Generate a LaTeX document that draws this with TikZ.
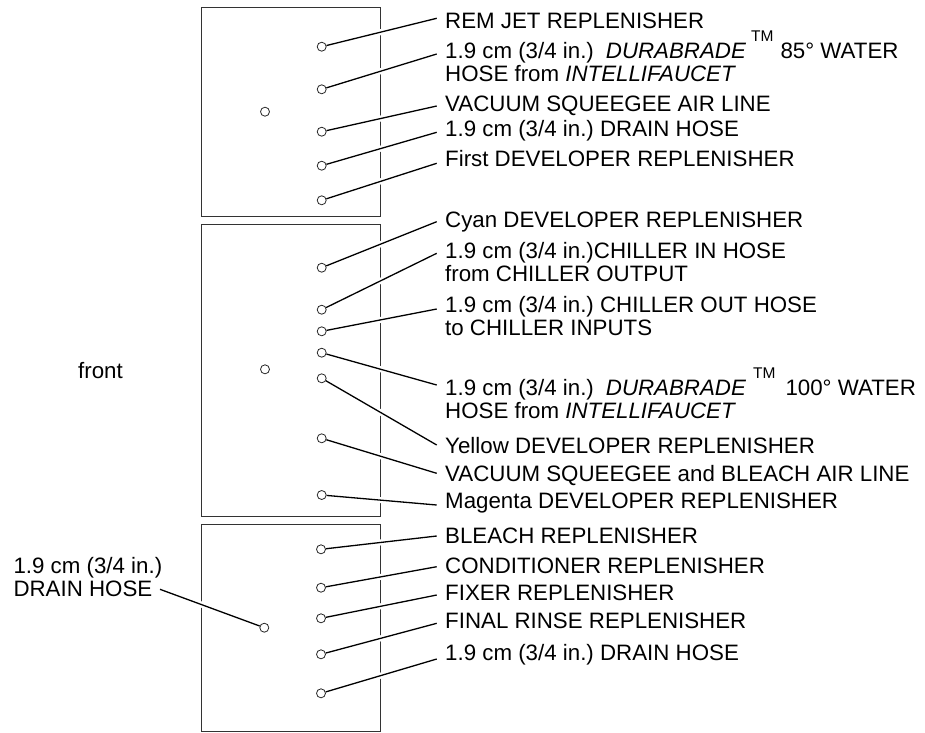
\documentclass[tikz,border=0pt]{standalone}
\usepackage{fontspec}
\setmainfont{Liberation Sans}
\usetikzlibrary{positioning,backgrounds}
\frenchspacing
\newcommand{\tmark}{\raisebox{17pt}{\fontsize{15.5}{15.5}\selectfont TM}}

\begin{document}
\begin{tikzpicture}[x=1pt,y=-1pt,
 every node/.style={font=\fontsize{22.3}{23}\selectfont},
 tank/.style={draw=black!80,line width=0.9pt},
 port/.style={circle,draw=black!85,fill=white,line width=0.8pt,
   inner sep=0pt,minimum size=9pt},
 callout/.style={anchor=base west,inner sep=0pt,align=left},
 leader/.style={draw=black,line width=1.3pt,
   preaction={draw=white,line width=6pt}}]
 \useasboundingbox (0,0) rectangle (925,732);
 % ports, top tank
 \node[port] (tc) at (265,111.7) {};
 \node[port] (t1) at (321.7,46.7) {};
 \node[port] (t2) at (321.7,89.3) {};
 \node[port] (t3) at (321.7,131.7) {};
 \node[port] (t4) at (321.7,165.7) {};
 \node[port] (t5) at (321.7,200.3) {};
 % ports, middle tank
 \node[port] (mc) at (265,369.3) {};
 \node[port] (m1) at (321.7,267.7) {};
 \node[port] (m2) at (321.7,309.7) {};
 \node[port] (m3) at (321.7,331.3) {};
 \node[port] (m4) at (321.7,352.7) {};
 \node[port] (m5) at (321.7,378.3) {};
 \node[port] (m6) at (321.7,438.3) {};
 \node[port] (m7) at (321.7,495) {};
 % ports, bottom tank
 \node[port] (bc) at (264.3,627.7) {};
 \node[port] (b1) at (321,549.3) {};
 \node[port] (b2) at (321,587.7) {};
 \node[port] (b3) at (321,618.3) {};
 \node[port] (b4) at (321,654.3) {};
 \node[port] (b5) at (321,693.3) {};
 % callouts (multi-line ones sit on the baseline of their last line)
 \node[callout] (remjet) at (445,28.5) {REM JET REPLENISHER};
 \node[callout] (dura85) at (445,81.7)
   {1.9 cm (3/4 in.)\hspace{12pt}\textit{DURABRADE}\hspace{5pt}\tmark\hspace{7pt}85° WATER\\
    HOSE from \textit{INTELLIFAUCET}};
 \node[callout] (vacair) at (445,111.7) {VACUUM SQUEEGEE AIR LINE};
 \node[callout] (draintop) at (445,136) {1.9 cm (3/4 in.) DRAIN HOSE};
 \node[callout] (firstdev) at (445,166) {First DEVELOPER REPLENISHER};
 \node[callout] (cyandev) at (445,227.5) {Cyan DEVELOPER REPLENISHER};
 \node[callout] (chillin) at (445,281)
   {1.9 cm (3/4 in.)CHILLER IN HOSE\\from CHILLER OUTPUT};
 \node[callout] (chillout) at (445,335)
   {1.9 cm (3/4 in.) CHILLER OUT HOSE\\to CHILLER INPUTS};
 \node[callout] (dura100) at (445,418)
   {1.9 cm (3/4 in.)\hspace{12pt}\textit{DURABRADE}\hspace{7pt}\tmark\hspace{10pt}100° WATER\\
    HOSE from \textit{INTELLIFAUCET}};
 \node[callout] (yellowdev) at (445,453) {Yellow DEVELOPER REPLENISHER};
 \node[callout] (vacbleach) at (445,481.5) {VACUUM SQUEEGEE and BLEACH AIR LINE};
 \node[callout] (magentadev) at (445,508.5) {Magenta DEVELOPER REPLENISHER};
 \node[callout] (bleach) at (445,543.3) {BLEACH REPLENISHER};
 \node[callout] (cond) at (445,573.3) {CONDITIONER REPLENISHER};
 \node[callout] (fixer) at (445,600) {FIXER REPLENISHER};
 \node[callout] (rinse) at (445,628.3) {FINAL RINSE REPLENISHER};
 \node[callout] (drainbot) at (445,660.5) {1.9 cm (3/4 in.) DRAIN HOSE};
 \node[callout] (drainleft) at (13.3,596.5) {1.9 cm (3/4 in.)\\DRAIN HOSE};
 \node[callout] (front) at (78,378) {front};
 % free ends of the leaders
 \coordinate (remjet-end) at (436.7,18.3);
 \coordinate (dura85-end) at (436.7,54);
 \coordinate (vacair-end) at (436.7,106);
 \coordinate (draintop-end) at (436.7,132.3);
 \coordinate (firstdev-end) at (436.7,163.3);
 \coordinate (cyandev-end) at (436.7,221.7);
 \coordinate (chillin-end) at (436.7,253.3);
 \coordinate (chillout-end) at (436.7,309);
 \coordinate (dura100-end) at (436.7,385);
 \coordinate (yellowdev-end) at (436.7,445);
 \coordinate (vacbleach-end) at (436.7,473.3);
 \coordinate (magentadev-end) at (436.7,505);
 \coordinate (bleach-end) at (436.7,536);
 \coordinate (cond-end) at (436.7,566.7);
 \coordinate (fixer-end) at (436.7,595);
 \coordinate (rinse-end) at (436.7,623.3);
 \coordinate (drainbot-end) at (436.7,659);
 \coordinate (drainleft-end) at (160,589.3);
 \begin{scope}[on background layer]
  % tanks
  \draw[tank] (201.5,7.5) rectangle (380.5,216);
  \draw[tank] (201.5,224.5) rectangle (380.5,516.5);
  \draw[tank] (201.5,524) rectangle (380.5,731);
  % leaders
  \draw[leader] (t1) -- (remjet-end);
  \draw[leader] (t2) -- (dura85-end);
  \draw[leader] (t3) -- (vacair-end);
  \draw[leader] (t4) -- (draintop-end);
  \draw[leader] (t5) -- (firstdev-end);
  \draw[leader] (m1) -- (cyandev-end);
  \draw[leader] (m2) -- (chillin-end);
  \draw[leader] (m3) -- (chillout-end);
  \draw[leader] (m4) -- (dura100-end);
  \draw[leader] (m5) -- (yellowdev-end);
  \draw[leader] (m6) -- (vacbleach-end);
  \draw[leader] (m7) -- (magentadev-end);
  \draw[leader] (b1) -- (bleach-end);
  \draw[leader] (b2) -- (cond-end);
  \draw[leader] (b3) -- (fixer-end);
  \draw[leader] (b4) -- (rinse-end);
  \draw[leader] (b5) -- (drainbot-end);
  \draw[leader] (drainleft-end) -- (bc);
 \end{scope}
\end{tikzpicture}
\end{document}
